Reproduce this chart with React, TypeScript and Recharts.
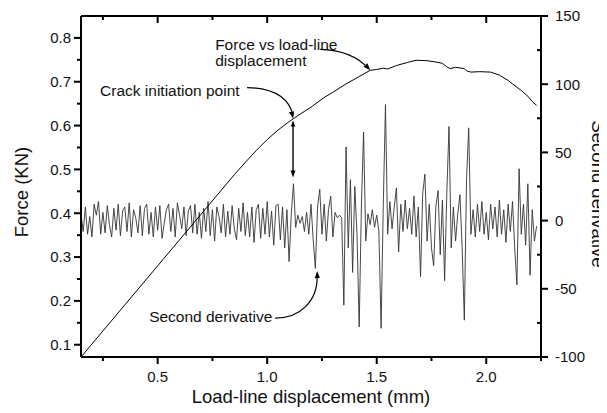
import React from 'react';
import { LineChart, Line, XAxis, YAxis, ReferenceDot, Customized } from 'recharts';

// ---- data ----
const dispStart = 0.15;
const dispStep = 0.01;
// second derivative, sampled every 0.01 mm from 0.15 mm to 2.23 mm
const secondDerivative = [
  5, -8, 10, -10, 3, -12, 12, 4, 14, -10,
  6, -9, 11, -3, -12, 9, -7, 12, -11, 7,
  10, -8, 13, -12, 8, 2, -9, 11, -11, 9,
  12, -10, 6, -12, 10, -7, 11, -13, -2, 8,
  12, -8, 9, -12, 13, 4, -6, 10, -11, 7,
  11, -9, 12, -10, 6, -13, 9, -8, 14, -11,
  8, -15, 10, 3, -9, 12, -12, 7, -10, 11,
  -6, -14, 9, -8, 13, -11, 6, -12, 10, -16,
  8, 12, -13, 9, -10, 14, -12, 7, -18, 11,
  12, -14, 10, -20, 8, -30, 5, 27, -5, 4,
  -2, 3, -8, 6, -10, 12, -14, -35, 10, 23,
  -10, 12, -15, 8, 18, -12, 6, 2, 4, 2,
  -62, 54, -20, 30, -38, 25, -10, -78, 10, 65,
  -15, 5, -3, 8, -5, 4, -8, -79, 12, 85,
  -10, 14, -6, 10, 24, -23, 12, -8, 15, -6,
  9, -10, 18, -12, 10, -41, 20, 34, -15, 12,
  -20, -33, 10, 22, -25, 15, -44, 20, 69, -20,
  10, -15, 5, 19, -20, -73, 30, 68, -10, 8,
  -12, 12, -8, 14, -10, 6, -14, 12, -6, 10,
  -12, 15, -10, 8, -16, 12, -8, 14, -20, -47,
  38, -10, 12, -18, 27, -40, 8, -15, -4,
];

const forceDisp = [0.15, 0.5, 0.85, 0.9, 0.95, 1.0, 1.05, 1.1, 1.15, 1.2, 1.26, 1.3, 1.36, 1.42, 1.47, 1.5, 1.53, 1.55, 1.59, 1.64, 1.68, 1.73, 1.77, 1.8, 1.82, 1.835, 1.86, 1.9, 1.91, 1.93, 1.97, 2.02, 2.06, 2.1, 2.12, 2.16, 2.19, 2.21, 2.23];
const forceKN = [0.072, 0.28, 0.488, 0.516, 0.543, 0.568, 0.59, 0.609, 0.626, 0.642, 0.664, 0.676, 0.695, 0.712, 0.726, 0.728, 0.731, 0.729, 0.737, 0.744, 0.749, 0.748, 0.745, 0.742, 0.734, 0.73, 0.733, 0.73, 0.725, 0.722, 0.723, 0.722, 0.715, 0.703, 0.695, 0.68, 0.667, 0.655, 0.646];

const xMajorTicks = [0.5, 1.0, 1.5, 2.0];
const xMinorTicks = [0.25, 0.75, 1.25, 1.75, 2.25];
const leftMajorTicks = [0.1, 0.2, 0.3, 0.4, 0.5, 0.6, 0.7, 0.8];
const leftMinorTicks = [0.15, 0.25, 0.35, 0.45, 0.55, 0.65, 0.75];
const rightMajorTicks = [-100, -50, 0, 50, 100, 150];
const rightMinorTicks = [-75, -25, 25, 75, 125];

const xDomain = [0.15, 2.25];
const leftDomain = [0.072, 0.85];
const rightDomain = [-100, 150];

const derivData = secondDerivative.map((d, i) => ({ x: +(dispStart + i * dispStep).toFixed(2), d }));
const forceData = forceDisp.map((x, i) => ({ x, f: forceKN[i] }));

// ---- layout ----
const W = 599;
const H = 405;
const TOP = 8;
const LEFT_W = 73;
const RIGHT_W = 66;
const BOTTOM_H = 56;
const PL = LEFT_W;
const PR = W - RIGHT_W;
const PT = TOP;
const PB = H - BOTTOM_H;
const sx = (v: number) => PL + ((v - xDomain[0]) / (xDomain[1] - xDomain[0])) * (PR - PL);
const syL = (v: number) => PT + ((leftDomain[1] - v) / (leftDomain[1] - leftDomain[0])) * (PB - PT);
const syR = (v: number) => PT + ((rightDomain[1] - v) / (rightDomain[1] - rightDomain[0])) * (PB - PT);

// ---- styling helpers ----
const FONT = '"Liberation Sans", Arial, Helvetica, sans-serif';
const AXIS_LINE = { stroke: '#000', strokeWidth: 2 };
const MAJOR = 7;
const MINOR = 4;
const TICK_W = 2;

const BottomLabel = (p: any) => (
  <text x={p.x} y={p.y + 18} textAnchor="middle" fontSize={15} fontFamily={FONT} fill="#111">
    {Number(p.payload.value).toFixed(1)}
  </text>
);
const LeftLabel = (p: any) => (
  <text x={p.x - 3} y={p.y + 5.3} textAnchor="end" fontSize={15} fontFamily={FONT} fill="#111">
    {Number(p.payload.value).toFixed(1)}
  </text>
);
const RightLabel = (p: any) => (
  <text x={p.x + 7} y={p.y + 5.3} textAnchor="start" fontSize={15} fontFamily={FONT} fill="#111">
    {String(p.payload.value)}
  </text>
);

const TickMarks = () => {
  const ls: React.ReactElement[] = [];
  const add = (k: string, x1: number, y1: number, x2: number, y2: number) =>
    ls.push(<line key={k} x1={x1} y1={y1} x2={x2} y2={y2} stroke="#000" strokeWidth={TICK_W} />);
  xMajorTicks.forEach((v) => {
    add(`bM${v}`, sx(v), PB, sx(v), PB + MAJOR);
    add(`tM${v}`, sx(v), PT, sx(v), PT + MAJOR);
  });
  xMinorTicks.forEach((v) => {
    add(`bm${v}`, sx(v), PB, sx(v), PB + MINOR);
    add(`tm${v}`, sx(v), PT, sx(v), PT + MINOR);
  });
  leftMajorTicks.forEach((v) => add(`lM${v}`, PL, syL(v), PL - MAJOR, syL(v)));
  leftMinorTicks.forEach((v) => add(`lm${v}`, PL, syL(v), PL - MINOR, syL(v)));
  rightMajorTicks.forEach((v) => add(`rM${v}`, PR, syR(v), PR + MAJOR, syR(v)));
  rightMinorTicks.forEach((v) => add(`rm${v}`, PR, syR(v), PR - MINOR, syR(v)));
  return <g>{ls}</g>;
};

function head(tx: number, ty: number, fx: number, fy: number, size = 7, half = 2.6) {
  const dx = tx - fx;
  const dy = ty - fy;
  const len = Math.hypot(dx, dy) || 1;
  const ux = dx / len;
  const uy = dy / len;
  const bx = tx - ux * size;
  const by = ty - uy * size;
  return `${tx},${ty} ${bx - uy * half},${by + ux * half} ${bx + uy * half},${by - ux * half}`;
}

const noteText = { fontSize: 15.5, fontFamily: FONT, fill: '#111' } as const;

const ForceNote = (p: any) => {
  const { cx, cy } = p;
  return (
    <g>
      <text x={cx - 155} y={cy - 20.5} {...noteText}>Force vs load-line</text>
      <text x={cx - 155} y={cy - 4.5} {...noteText}>displacement</text>
      <path d={`M ${cx - 50} ${cy - 21} Q ${cx - 18} ${cy - 20} ${cx - 2} ${cy - 2}`} fill="none" stroke="#000" strokeWidth={1.2} />
      <polygon points={head(cx, cy, cx - 14, cy - 16)} fill="#000" />
    </g>
  );
};

const CrackNote = (p: any) => {
  const { cx, cy } = p;
  return (
    <g>
      <text x={cx - 193} y={cy - 23} {...noteText}>Crack initiation point</text>
      <path d={`M ${cx - 46} ${cy - 31} Q ${cx - 6} ${cy - 30} ${cx} ${cy - 3}`} fill="none" stroke="#000" strokeWidth={1.2} />
      <polygon points={head(cx, cy, cx - 3, cy - 14)} fill="#000" />
      <line x1={cx} x2={cx} y1={cy + 4} y2={cy + 55} stroke="#000" strokeWidth={1.4} />
      <polygon points={head(cx, cy + 2, cx, cy + 12, 6, 2.2)} fill="#000" />
      <polygon points={head(cx, cy + 59, cx, cy + 48, 7, 2.4)} fill="#000" />
    </g>
  );
};

const DerivNote = (p: any) => {
  const { cx, cy } = p;
  return (
    <g>
      <text x={cx - 168} y={cy + 51} {...noteText}>Second derivative</text>
      <path d={`M ${cx - 42} ${cy + 47} C ${cx - 17} ${cy + 47}, ${cx + 1} ${cy + 30}, ${cx} ${cy + 4}`} fill="none" stroke="#000" strokeWidth={1.2} />
      <polygon points={head(cx, cy, cx + 0.3, cy + 12)} fill="#000" />
    </g>
  );
};

const Titles = () => (
  <g>
    <text x={303} y={395} textAnchor="middle" fontSize={18.5} fontFamily={FONT} fill="#111">
      Load-line displacement (mm)
    </text>
    <text x={13} y={184} textAnchor="middle" dominantBaseline="central" fontSize={18.5} fontFamily={FONT} fill="#111" transform="rotate(-90 13 184)">
      Force (KN)
    </text>
    <text x={590} y={186} textAnchor="middle" dominantBaseline="central" fontSize={18.5} fontFamily={FONT} fill="#111" transform="rotate(90 590 186)">
      Second derivative
    </text>
  </g>
);

const common = { type: 'number' as const, allowDataOverflow: true, interval: 0 as const, tickMargin: 0 };

export default function App() {
  return (
    <div style={{ width: W, height: H }}>
      <LineChart width={W} height={H} margin={{ top: TOP, right: 0, bottom: 0, left: 0 }}>
        <XAxis {...common} dataKey="x" domain={xDomain} ticks={xMajorTicks} height={BOTTOM_H} tickSize={MAJOR}
          tickLine={false} axisLine={AXIS_LINE} tick={<BottomLabel />} />
        <XAxis {...common} xAxisId="top" orientation="top" mirror dataKey="x" domain={xDomain} ticks={xMajorTicks} height={1}
          tickSize={MAJOR} tickLine={false} axisLine={AXIS_LINE} tick={false} />
        <YAxis {...common} yAxisId="left" orientation="left" domain={leftDomain} ticks={leftMajorTicks} width={LEFT_W} tickSize={MAJOR}
          tickLine={false} axisLine={AXIS_LINE} tick={<LeftLabel />} />
        <YAxis {...common} yAxisId="right" orientation="right" domain={rightDomain} ticks={rightMajorTicks} width={RIGHT_W} tickSize={MAJOR}
          tickLine={false} axisLine={AXIS_LINE} tick={<RightLabel />} />

        <Line data={derivData} dataKey="d" yAxisId="right" type="linear" stroke="#333" strokeWidth={0.9} dot={false} isAnimationActive={false} />
        <Line data={forceData} dataKey="f" yAxisId="left" type="linear" stroke="#000" strokeWidth={1} dot={false} isAnimationActive={false} />

        <ReferenceDot x={1.47} y={0.726} yAxisId="left" r={0} shape={(p: any) => <ForceNote {...p} />} />
        <ReferenceDot x={1.118} y={0.616} yAxisId="left" r={0} shape={(p: any) => <CrackNote {...p} />} />
        <ReferenceDot x={1.228} y={-37} yAxisId="right" r={0} shape={(p: any) => <DerivNote {...p} />} />
        <Customized component={<TickMarks />} />
        <Customized component={<Titles />} />
      </LineChart>
    </div>
  );
}
